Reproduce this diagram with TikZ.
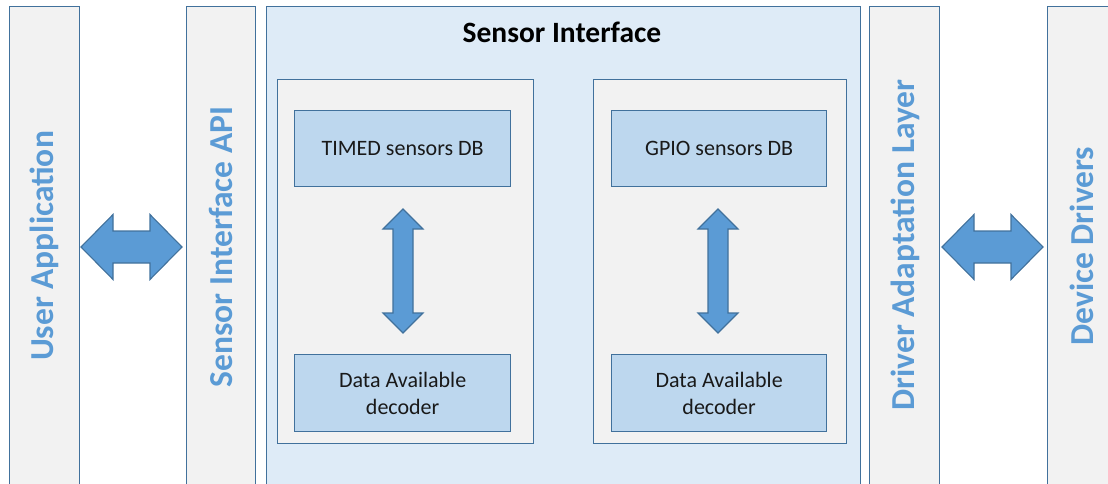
\documentclass[tikz,border=0pt]{standalone}
\usepackage{fontspec}
\setmainfont{Carlito}
\usetikzlibrary{calc}
\definecolor{edge}{HTML}{41719C}
\definecolor{colfill}{HTML}{F2F2F2}
\definecolor{sifill}{HTML}{DEEBF7}
\definecolor{boxfill}{HTML}{BDD7EE}
\definecolor{arrowfill}{HTML}{5B9BD5}
\tikzset{
  col/.style={draw=edge, fill=colfill, line width=1.3pt, rectangle, inner sep=0pt},
  sibox/.style={draw=edge, fill=sifill, line width=1.3pt, rectangle, inner sep=0pt},
  inner/.style={draw=edge, fill=colfill, line width=1.3pt, rectangle, inner sep=0pt},
  dbbox/.style={draw=edge, fill=boxfill, line width=1.3pt, rectangle, inner sep=0pt},
  dbtext/.style={font=\fontsize{22}{27}\selectfont, align=center, text=black!90},
  vlabel/.style={rotate=90, text=arrowfill, font=\fontsize{33.5}{36}\selectfont\bfseries},
  blockarrow/.style={draw=edge, fill=arrowfill, line width=1.1pt, line join=miter},
}
\begin{document}
\begin{tikzpicture}[x=1pt,y=-1pt]
\useasboundingbox (0,0) rectangle (1108,484);
\clip (0,0) rectangle (1108,484);
% columns
\node[col, anchor=north west, minimum width=70, minimum height=500] (ua) at (9,6) {};
\node[col, anchor=north west, minimum width=69, minimum height=500] (api) at (186,6) {};
\node[sibox, anchor=north west, minimum width=594, minimum height=500] (si) at (266,6) {};
\node[col, anchor=north west, minimum width=70, minimum height=500] (dal) at (869,6) {};
\node[col, anchor=north west, minimum width=70, minimum height=500] (dd) at (1047,6) {};
% labels
\node[vlabel] (ualab) at (44,246) {User Application};
\node[vlabel] (apilab) at (221,247) {Sensor Interface API};
\node[vlabel] (dallab) at (905,245) {Driver Adaptation Layer};
\node[vlabel] (ddlab) at (1082,246) {Device Drivers};
\node[font=\fontsize{29.5}{32}\selectfont\bfseries, text=black] (title) at (562,32) {Sensor Interface};
% inner groups
\node[inner, anchor=north west, minimum width=256, minimum height=364] (gl) at (277,79) {};
\node[inner, anchor=north west, minimum width=253, minimum height=364] (gr) at (593,79) {};
% db boxes
\node[dbbox, anchor=north west, minimum width=216, minimum height=76] (timed) at (294,110) {};
\node[dbtext] (timedlab) at (timed.center) {TIMED sensors DB};
\node[dbbox, anchor=north west, minimum width=216, minimum height=77] (dal1) at (294,354) {};
\node[dbtext] (dal1lab) at (dal1.center) {Data Available\\decoder};
\node[dbbox, anchor=north west, minimum width=215, minimum height=76] (gpio) at (611,110) {};
\node[dbtext] (gpiolab) at (gpio.center) {GPIO sensors DB};
\node[dbbox, anchor=north west, minimum width=215, minimum height=77] (dal2) at (611,354) {};
\node[dbtext] (dal2lab) at (dal2.center) {Data Available\\decoder};
% horizontal block arrows
\coordinate (h1) at (81,247);
\draw[blockarrow] (h1) -- ++(32,-32.5) -- ++(0,16.5) -- ++(37,0) -- ++(0,-16.5) -- ++(32,32.5)
  -- ++(-32,32.5) -- ++(0,-16.5) -- ++(-37,0) -- ++(0,16.5) -- cycle;
\coordinate (h2) at (942,247);
\draw[blockarrow] (h2) -- ++(32,-32.5) -- ++(0,16.5) -- ++(37,0) -- ++(0,-16.5) -- ++(32,32.5)
  -- ++(-32,32.5) -- ++(0,-16.5) -- ++(-37,0) -- ++(0,16.5) -- cycle;
% vertical block arrows
\coordinate (v1) at (403,209);
\draw[blockarrow] (v1) -- ++(20,20) -- ++(-10,0) -- ++(0,84) -- ++(10,0) -- ++(-20,20)
  -- ++(-20,-20) -- ++(10,0) -- ++(0,-84) -- ++(-10,0) -- cycle;
\coordinate (v2) at (718,209);
\draw[blockarrow] (v2) -- ++(20,20) -- ++(-10,0) -- ++(0,84) -- ++(10,0) -- ++(-20,20)
  -- ++(-20,-20) -- ++(10,0) -- ++(0,-84) -- ++(-10,0) -- cycle;
\end{tikzpicture}
\end{document}
